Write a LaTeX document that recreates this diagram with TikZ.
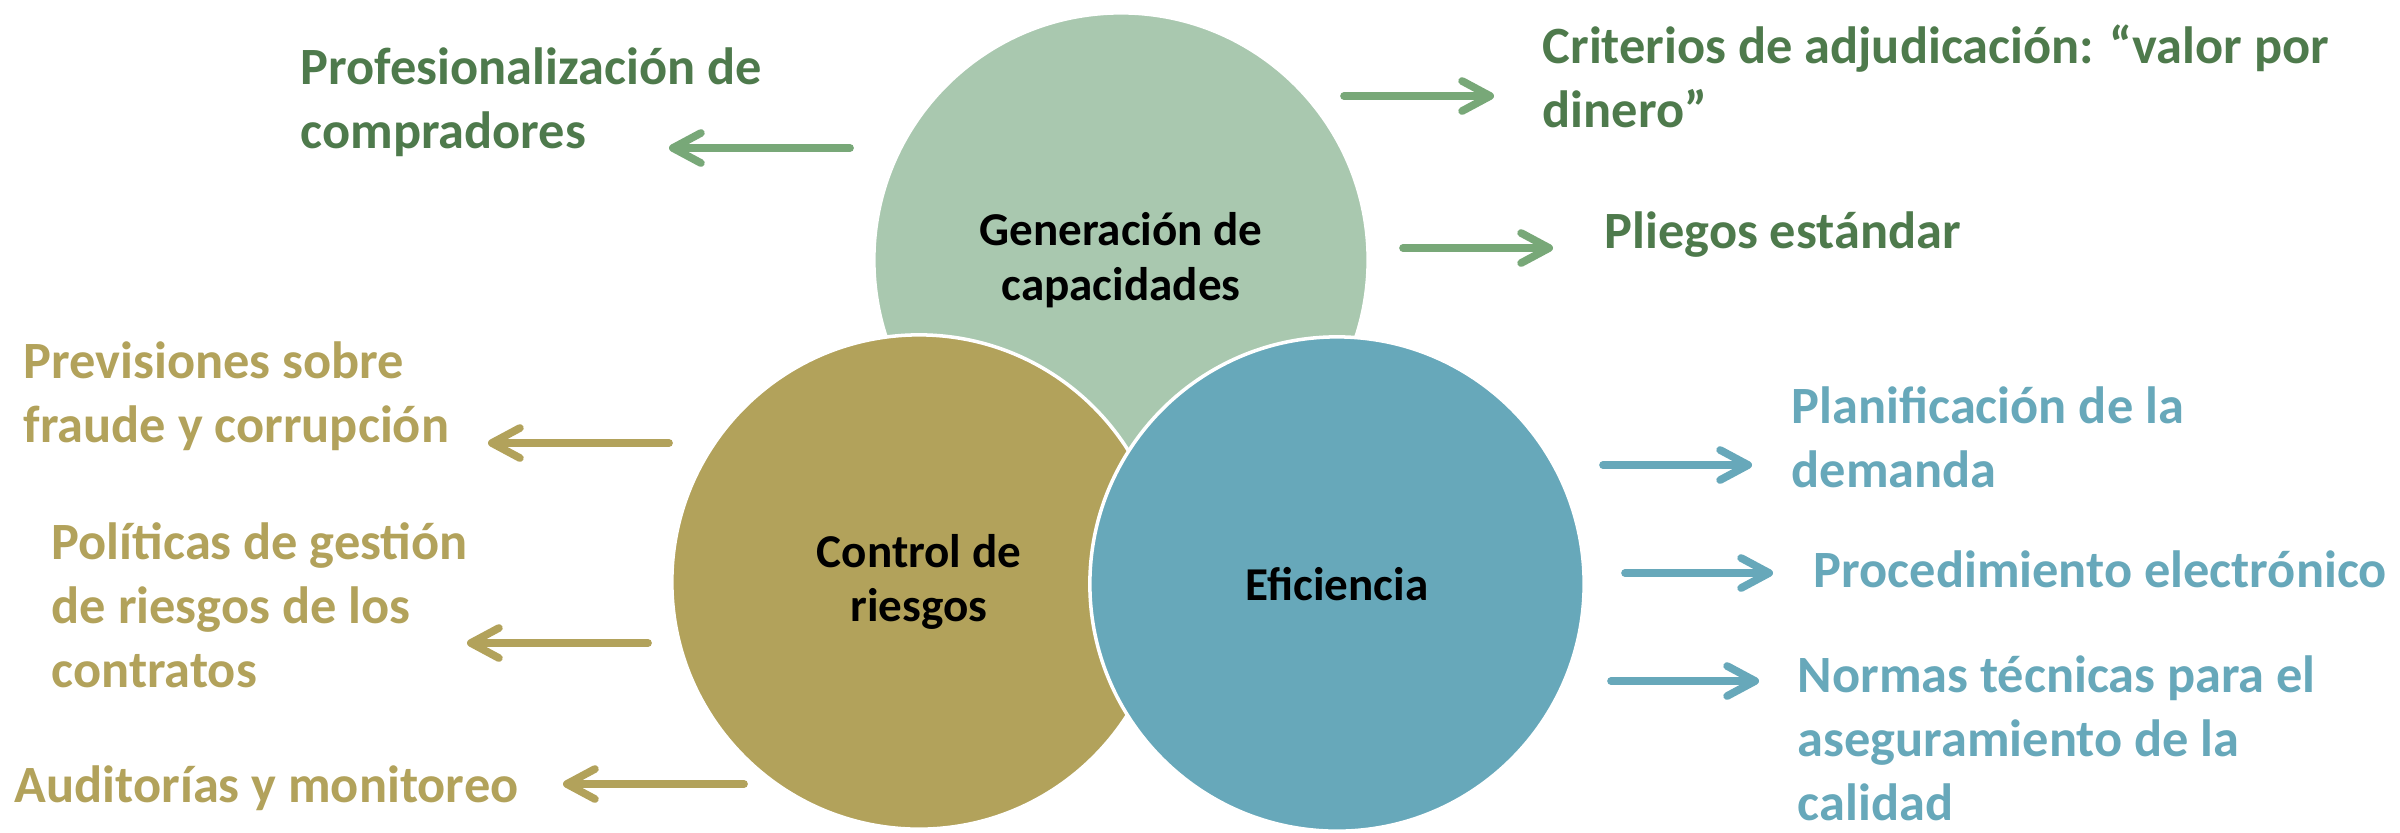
\documentclass[tikz,border=0pt]{standalone}
\usepackage{fontspec}
\setmainfont{Carlito}
\usetikzlibrary{positioning, arrows.meta}

\definecolor{genfill}{HTML}{A9C8AF}
\definecolor{gentext}{HTML}{4E7A4C}
\definecolor{genline}{HTML}{78A878}
\definecolor{ctrlfill}{HTML}{B2A25B}
\definecolor{efifill}{HTML}{67A8BA}

\begin{document}
\begin{tikzpicture}
% Style
[
    x=0.01cm, y=-0.01cm,
    ring/.style={
        circle, draw=white, line width=1pt, fill=#1, minimum size=4.94cm, inner sep=0pt,
        align=center, font=\fontsize{13.4}{15.6}\selectfont\bfseries
    },
    item/.style={
        text=#1, align=left, inner sep=0pt, anchor=base west,
        font=\fontsize{14.9}{18.2}\selectfont\bfseries
    },
    link/.style={
        draw=#1, line width=2.2pt, line cap=round,
        -{Straight Barb[length=2.8mm, width=3mm, line cap=round, line join=round]}
    }
]
\useasboundingbox (0,0) rectangle (2400,832);

%=================================== Start ===================================
{
    % circles
    \node[ring=genfill]  (gen)  at (1121,260) {Generación de\\capacidades};
    \node[ring=ctrlfill] (ctrl) at (919,582)  {Control de\\riesgos};
    \node[ring=efifill]  (efi)  at (1337,584) {Eficiencia};

    % texts (placed at the baseline of their last line)
    \node[item=gentext] (prof)  at (300,148)  {Profesionalización de\\compradores};
    \node[item=gentext] (crit)  at (1542,127) {Criterios de adjudicación: “valor por\\dinero”};
    \node[item=gentext] (plieg) at (1604,248) {Pliegos estándar};

    \node[item=ctrlfill] (prev)  at (23,442) {Previsiones sobre\\fraude y corrupción};
    \node[item=ctrlfill] (polit) at (51,687) {Políticas de gestión\\de riesgos de los\\contratos};
    \node[item=ctrlfill] (audit) at (14,802) {Auditorías y monitoreo};

    \node[item=efifill] (plan) at (1791,487) {Planificación de la\\demanda};
    \node[item=efifill] (proc) at (1813,587) {Procedimiento electrónico};
    \node[item=efifill] (norm) at (1797,820) {Normas técnicas para el\\aseguramiento de la\\calidad};

    % arrows
    \foreach \n/\xa/\xb/\y in {prof/850/669/148, crit/1344/1494/96, plieg/1403/1553/248} {
        \coordinate (\n-a) at (\xa,\y);
        \coordinate (\n-b) at (\xb,\y);
        \draw[link=genline] (\n-a) -- (\n-b);
    }
    \foreach \n/\xa/\xb/\y in {prev/669/488/443, polit/648/467/643, audit/744/563/784} {
        \coordinate (\n-a) at (\xa,\y);
        \coordinate (\n-b) at (\xb,\y);
        \draw[link=ctrlfill] (\n-a) -- (\n-b);
    }
    \foreach \n/\xa/\xb/\y in {plan/1603/1752/465, proc/1625/1773/573, norm/1611/1759/681} {
        \coordinate (\n-a) at (\xa,\y);
        \coordinate (\n-b) at (\xb,\y);
        \draw[link=efifill] (\n-a) -- (\n-b);
    }
}
%==================================== END ====================================

\end{tikzpicture}
\end{document}
